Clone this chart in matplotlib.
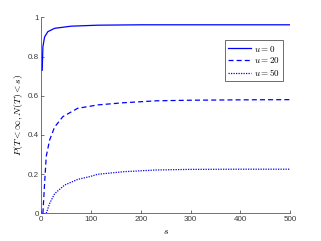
#!/usr/bin/env python3
"""Probability of absorption before N(T) < s for several u."""

import matplotlib
matplotlib.use("Agg")
import matplotlib.pyplot as plt

plt.rcParams["font.family"] = ["Liberation Sans", "DejaVu Sans"]
plt.rcParams["mathtext.fontset"] = "cm"

# values
s_u0 = [1.6, 3, 6.4, 13, 26.5, 60, 113, 200, 300, 400, 500]
p_u0 = [0.73, 0.85, 0.90, 0.927, 0.944, 0.955, 0.960, 0.962, 0.962, 0.962, 0.962]

s_u20 = [3, 6.4, 9.7, 16.5, 26.5, 43, 73, 97, 113, 164, 231, 298, 400, 500]
p_u20 = [0.0, 0.153, 0.29, 0.374, 0.44, 0.493, 0.536, 0.546, 0.553, 0.564, 0.574, 0.577, 0.579, 0.580]

s_u50 = [9.7, 16.5, 26.5, 46.6, 73, 97, 113, 164, 231, 298, 400, 500]
p_u50 = [0.0, 0.05, 0.10, 0.144, 0.173, 0.187, 0.199, 0.212, 0.221, 0.224, 0.225, 0.225]

labels = ["$u = 0$", "$u = 20$", "$u = 50$"]
x_ticks = [0, 100, 200, 300, 400, 500]
y_ticks = [0, 0.2, 0.4, 0.6, 0.8, 1]
y_tick_labels = ["0", "0.2", "0.4", "0.6", "0.8", "1"]


def main() -> None:
    fig = plt.figure(figsize=(3.21, 2.41), dpi=100)
    ax = fig.add_axes([0.129, 0.115, 0.775, 0.813])

    ax.plot(s_u0, p_u0, color="blue", lw=0.9, ls="-", label=labels[0])
    ax.plot(s_u20, p_u20, color="blue", lw=0.9, ls=(0, (4, 2.5)), label=labels[1])
    ax.plot(s_u50, p_u50, color="blue", lw=0.9, ls=(0, (1, 1)), label=labels[2])

    ax.set_xlim(0, 500)
    ax.set_ylim(0, 1)
    ax.set_xticks(x_ticks)
    ax.set_yticks(y_ticks)
    ax.set_yticklabels(y_tick_labels)

    grey = "#3a3a3a"
    for side in ["top", "right"]:
        ax.spines[side].set_visible(False)
    for side in ["left", "bottom"]:
        ax.spines[side].set_color(grey)
        ax.spines[side].set_linewidth(0.5)
    ax.tick_params(direction="in", length=2.5, width=0.5, colors=grey,
                   labelsize=5.8, pad=2)

    ax.set_xlabel("$s$", fontsize=7, labelpad=2)
    ax.set_ylabel(r"$P(T < \infty, N(T) < s)$", fontsize=7, labelpad=2)

    leg = ax.legend(loc="upper right", bbox_to_anchor=(0.99, 0.905),
                    fontsize=6.5, handlelength=2.6, handletextpad=0.3,
                    borderpad=0.35, labelspacing=0.2, fancybox=False,
                    framealpha=1)
    leg.get_frame().set_edgecolor("#555555")
    leg.get_frame().set_linewidth(0.6)

    fig.savefig("out.png", dpi=100)
    plt.close(fig)


if __name__ == "__main__":
    main()
